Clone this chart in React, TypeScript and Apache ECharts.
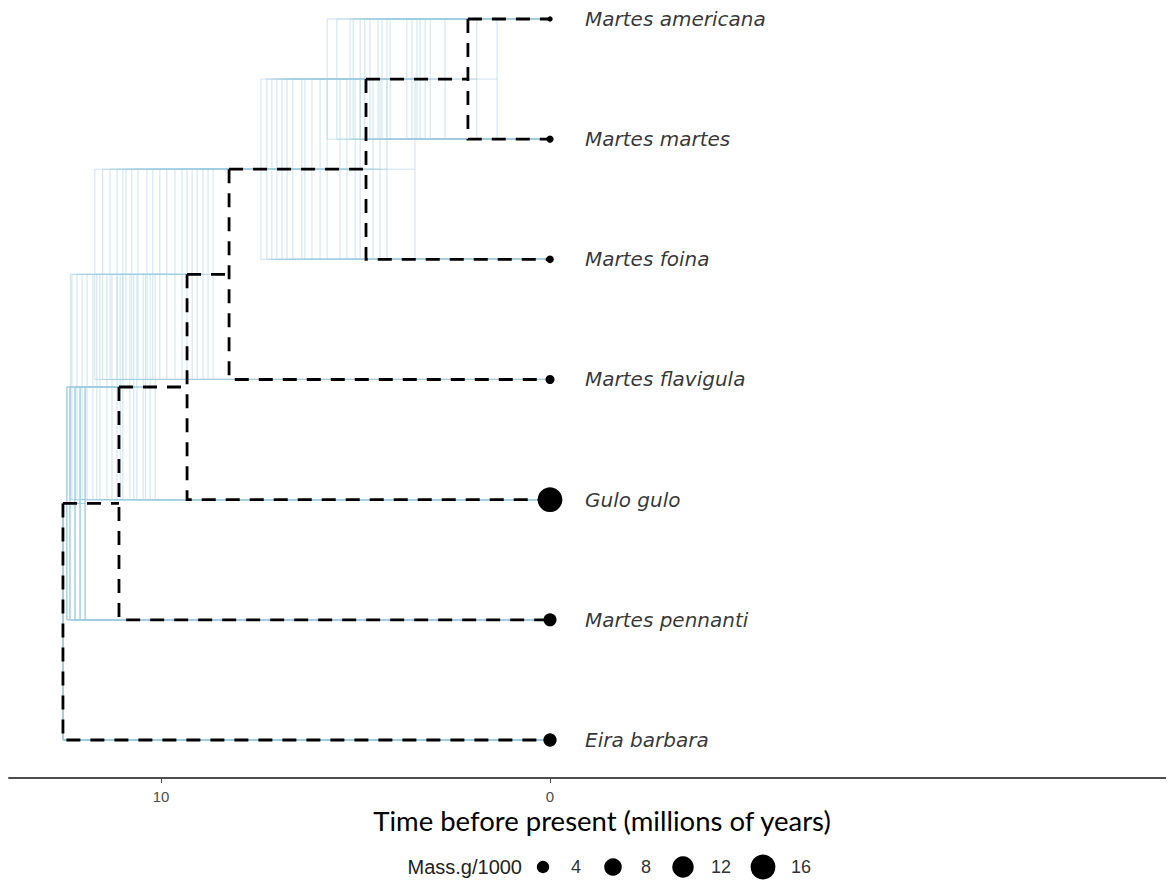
import React, { useEffect, useRef } from "react";
import * as echarts from "echarts";

// ---- data ----
const tipNames = [
  "Martes americana",
  "Martes martes",
  "Martes foina",
  "Martes flavigula",
  "Gulo gulo",
  "Martes pennanti",
  "Eira barbara",
];
const tipMass = [0.75, 1.3, 1.5, 2.1, 16, 4.4, 4.6]; // Mass.g/1000

// internal nodes of the summary tree, children ids ("t#" = tip, "n#" = node)
const nodeChildren = [
  ["t0", "t1"],
  ["n0", "t2"],
  ["n1", "t3"],
  ["n2", "t4"],
  ["n3", "t5"],
  ["n4", "t6"],
];
const nodeAges = [2.11, 4.73, 8.25, 9.33, 11.08, 12.52]; // Myr before present

// posterior sample node ages (one array per node, same sample order)
const sampleAgesN0 = [5.73, 5.48, 5.14, 5.06, 4.88, 4.76, 4.63, 4.42, 4.32, 4.19, 4.11, 3.68, 3.55, 3.42, 3.34, 3.21, 3.08, 2.7, 1.88, 1.36];
const sampleAgesN1 = [7.43, 7.28, 7.15, 7.02, 6.89, 6.76, 6.61, 6.38, 6.3, 6.12, 5.91, 5.73, 5.4, 5.22, 5.01, 4.88, 4.55, 4.37, 4.19, 3.47];
const sampleAgesN2 = [11.7, 11.5, 11.31, 11.13, 10.98, 10.9, 10.75, 10.59, 10.36, 10.21, 10.03, 9.85, 9.64, 9.46, 9.33, 9.2, 9.07, 8.92, 8.79, 8.66];
const sampleAgesN3 = [12.33, 12.29, 12.16, 12.03, 11.9, 11.75, 11.65, 11.57, 11.39, 11.26, 11.13, 11.05, 10.98, 10.8, 10.7, 10.62, 10.46, 10.4, 10.28, 10.15];
const sampleAgesN4 = [12.42, 12.42, 12.42, 12.42, 12.34, 12.34, 12.34, 12.34, 12.21, 12.21, 12.21, 12.21, 12.08, 12.08, 12.08, 12.08, 11.95, 11.95, 11.95, 11.95];
const sampleAgesRoot = [12.52, 12.52, 12.52, 12.52, 12.52, 12.52, 12.52, 12.52, 12.52, 12.52, 12.52, 12.52, 12.52, 12.52, 12.52, 12.52, 12.52, 12.52, 12.52, 12.52];

const xTicks = [10, 0];
const legendMass = [4, 8, 12, 16];
const legendTitle = "Mass.g/1000";
const axisTitle = "Time before present (millions of years)";

// ---- helpers ----
const sizeOf = (m: number) => 6.2 * Math.sqrt(m);

function yOf(id: string): number {
  const idx = parseInt(id.slice(1), 10);
  if (id[0] === "t") return tipNames.length - idx;
  const [a, b] = nodeChildren[idx];
  return (yOf(a) + yOf(b)) / 2;
}
function ageOf(id: string, ages: number[]): number {
  const idx = parseInt(id.slice(1), 10);
  return id[0] === "t" ? 0 : ages[idx];
}

export default function App() {
  const ref = useRef<HTMLDivElement>(null);

  useEffect(() => {
    if (!ref.current) return;
    const chart = echarts.init(ref.current, undefined, { renderer: "svg" });

    // blue posterior trees
    const samples = [sampleAgesN0, sampleAgesN1, sampleAgesN2, sampleAgesN3, sampleAgesN4, sampleAgesRoot];
    const blue: any[] = [];
    for (let s = 0; s < sampleAgesN0.length; s++) {
      const ages = samples.map((arr) => arr[s]);
      nodeChildren.forEach(([a, b], k) => {
        const age = ages[k];
        const ya = yOf(a);
        const yb = yOf(b);
        blue.push({
          coords: [
            [ageOf(a, ages), ya],
            [age, ya],
            [age, yb],
            [ageOf(b, ages), yb],
          ],
        });
      });
    }

    // black summary tree (dashed)
    const black: any[] = [];
    nodeChildren.forEach(([a, b], k) => {
      const age = nodeAges[k];
      const ya = yOf(a);
      const yb = yOf(b);
      black.push({ coords: [[age, ya], [ageOf(a, nodeAges), ya]] });
      black.push({ coords: [[age, ya], [age, yb], [ageOf(b, nodeAges), yb]] });
    });

    const tipData = tipNames.map((n, i) => ({
      name: n,
      value: [0, yOf("t" + i)],
      symbolSize: sizeOf(tipMass[i]),
    }));

    // legend graphic
    const legendY = 859;
    const graphics: any[] = [
      {
        type: "text",
        x: 594,
        y: 812,
        style: {
          text: axisTitle,
          fontSize: 27.5,
          fontFamily: "Lato",
          fill: "#000",
          align: "center",
          verticalAlign: "middle",
        },
      },
      {
        type: "text",
        x: 514,
        y: legendY,
        style: {
          text: legendTitle,
          fontSize: 20,
          fontFamily: "Liberation Sans",
          fill: "#222",
          align: "right",
          verticalAlign: "middle",
        },
      },
    ];
    let cursor = 535;
    legendMass.forEach((m) => {
      const label = String(m);
      graphics.push({
        type: "circle",
        shape: { cx: cursor, cy: legendY, r: sizeOf(m) / 2 },
        style: { fill: "#000" },
      });
      graphics.push({
        type: "text",
        x: cursor + 28,
        y: legendY,
        style: {
          text: label,
          fontSize: 18,
          fontFamily: "Liberation Sans",
          fill: "#333",
          align: "left",
          verticalAlign: "middle",
        },
      });
      cursor = cursor + 28 + label.length * 10 + 32;
    });

    chart.setOption({
      animation: false,
      grid: { left: 1, right: 0, top: 0, bottom: 102, containLabel: false, outerBoundsMode: "none" },
      xAxis: {
        type: "value",
        min: -16.04,
        max: 13.907,
        inverse: true,
        position: "bottom",
        splitLine: { show: false },
        axisLine: { show: true, onZero: false, lineStyle: { color: "#4d4d4d", width: 2 } },
        axisTick: { show: true, customValues: xTicks, length: 5, lineStyle: { color: "#4d4d4d", width: 1 } },
        axisLabel: {
          customValues: xTicks,
          color: "#4d4d4d",
          fontSize: 15,
          margin: 11,
          fontFamily: "Liberation Sans",
        },
      },
      yAxis: { type: "value", min: 0.6838, max: 7.0915, show: false },
      graphic: graphics,
      series: [
        {
          type: "lines",
          coordinateSystem: "cartesian2d",
          polyline: true,
          silent: true,
          z: 1,
          data: blue,
          lineStyle: { color: "rgb(160,205,225)", width: 1, opacity: 0.55 },
        },
        {
          type: "lines",
          coordinateSystem: "cartesian2d",
          polyline: true,
          silent: true,
          z: 2,
          data: black,
          lineStyle: { color: "#000", width: 2.8, opacity: 1, type: [14, 10], cap: "butt", join: "miter" },
        },
        {
          type: "scatter",
          z: 3,
          data: tipData,
          itemStyle: { color: "#000", opacity: 1 },
          silent: true,
        },
        {
          type: "scatter",
          z: 4,
          data: tipNames.map((n, i) => ({ name: n, value: [0, yOf("t" + i)] })),
          symbolSize: 0,
          silent: true,
          label: {
            show: true,
            position: "right",
            distance: 35,
            formatter: "{b}",
            fontFamily: "DejaVu Sans",
            fontStyle: "italic",
            fontSize: 20,
            color: "#000",
          },
        },
      ],
    });

    return () => chart.dispose();
  }, []);

  return <div ref={ref} style={{ width: 1166, height: 872 }} />;
}
